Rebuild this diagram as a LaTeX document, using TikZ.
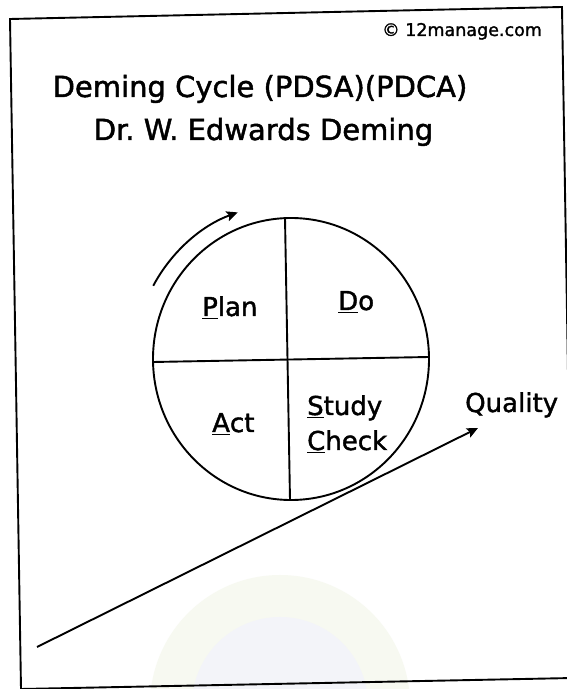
\documentclass[tikz,border=0pt]{standalone}
\usepackage{fontspec}
\setmainfont{DejaVu Sans}
\newfontfamily\inkfont{DejaVu Sans}[FakeBold=1.5]
\usetikzlibrary{arrows.meta,calc,shapes.geometric}

% underline the key letter of each phase name
\newcommand\keyletter[1]{\leavevmode\setbox0=\hbox{#1}\rlap{\rule[-0.13em]{\wd0}{0.07em}}\box0}

\tikzset{
  ink/.style={line width=1.9pt, black},
  label/.style={inner sep=0pt, anchor=base west, font=\inkfont\fontsize{26}{30}\selectfont},
  headline/.style={inner sep=0pt, anchor=base, font=\inkfont\fontsize{29}{35}\selectfont},
  tip/.style={-{Stealth[length=11pt,width=10pt,inset=2pt]}}
}

\begin{document}
\frenchspacing
\begin{tikzpicture}[x=1pt,y=1pt]
\useasboundingbox (0,0) rectangle (566,689);
\fill[white] (0,0) rectangle (566,689);

% faint seal in the background
\begin{scope}
  \clip (0,0) rectangle (566,689);
  \fill[color={rgb,255:red,247;green,249;blue,241}] (280,-16) circle[radius=130];
  \fill[color={rgb,255:red,243;green,244;blue,249}] (280,-16) circle[radius=88];
\end{scope}

% page frame
\coordinate (tl) at (10,670);
\coordinate (tr) at (562,682);
\coordinate (br) at (573,11);
\coordinate (bl) at (21,0);
\draw[ink] (tl) -- (tr) -- (br) -- (bl) -- cycle;

% header
\node[inner sep=0pt, anchor=base west, font=\inkfont\fontsize{17.5}{20}\selectfont] (copy) at (382,653) {© 12manage.com};
\node[headline] (title) at (260,592) {Deming Cycle (PDSA)(PDCA)};
\node[headline] (author) at (263.5,549) {Dr. W. Edwards Deming};

% the cycle
\node[ellipse, draw, ink, minimum width=276pt, minimum height=282pt, inner sep=0pt] (cycle) at (291,330) {};
\coordinate (vtop) at (285,471);
\coordinate (vbot) at (290,189);
\coordinate (hleft) at (153,327);
\coordinate (hright) at (429,332);
\draw[ink] (vtop) -- (vbot);
\draw[ink] (hleft) -- (hright);

\node[label] (plan) at (202,373) {\keyletter{P}lan};
\node[label] (do) at (338,379) {\keyletter{D}o};
\node[label] (act) at (212,257) {\keyletter{A}ct};
\node[label] (study) at (307,274) {\keyletter{S}tudy};
\node[label] (check) at (307,239) {\keyletter{C}heck};

% direction of rotation
\coordinate (turnstart) at ($(291,330)+(152:156)$);
\draw[ink, tip] (turnstart) arc[start angle=152, end angle=110, radius=156];

% rising quality
\node[label] (quality) at (465,277) {Quality};
\coordinate (qstart) at (37,42);
\coordinate (qend) at (478,261);
\draw[ink, tip] (qstart) -- (qend);
\end{tikzpicture}
\end{document}
